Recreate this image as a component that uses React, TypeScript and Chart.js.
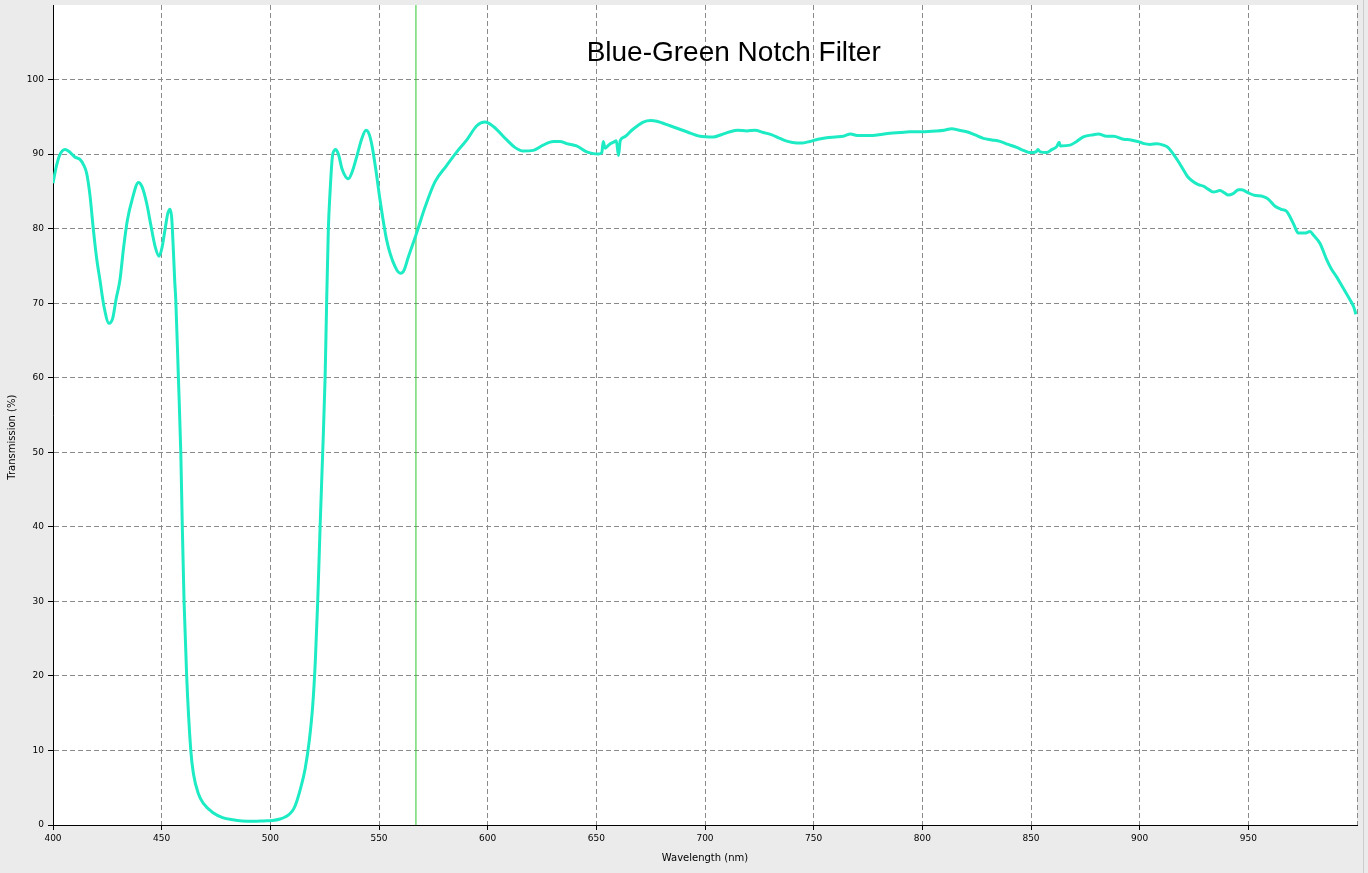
import React, { useEffect, useRef } from 'react';
import { Chart, registerables } from 'chart.js';

Chart.register(...registerables);

const chartTitle = 'Blue-Green Notch Filter';
const xAxisTitle = 'Wavelength (nm)';
const yAxisTitle = 'Transmission (%)';

const wavelengths = [
  400.0, 401.5, 403, 405.5, 408, 410, 412.4, 414, 415.5, 417, 418.6, 420, 421.6, 423.5, 425.8,
  427.5, 429, 430.8, 432.5, 434.2, 436.5, 439.3, 441, 443.1, 445, 447, 448.8, 450.2, 451.5, 452.8,
  453.8, 454.6, 455.4, 456, 456.5, 457.7, 458.8, 459.5, 460.3, 461.5, 463.4, 464.6, 466.9, 469.2,
  473.8, 478, 482.8, 487, 492, 497, 501, 504.5, 507, 509, 510.8, 512.3, 514, 516, 518, 519.5,
  520.7, 521.8, 522.9, 524.1, 525.2, 525.9, 526.7, 527.5, 528.5, 529.5, 530.2, 531.5, 533, 535.9,
  537.5, 539.7, 542, 544, 545.3, 546.6, 548.5, 550.5, 553.5, 557.4, 560, 561.5, 563.5, 567.3,
  571.2, 575.8, 581.2, 585.8, 590.4, 595, 598.8, 602.6, 608.8, 612.5, 616.4, 621, 625.5, 630.2,
  633.3, 636.4, 640.9, 645.6, 648, 650.9, 652.5, 653.2, 654, 656, 658, 659.2, 660.2,
  661, 663, 666.3, 669, 671.6, 675, 677.8, 683.9, 691.6, 697.7, 703.8, 707.5, 711.5, 715, 719.2,
  723, 726.8, 730.5, 734.5, 738, 742.2, 745, 748.3, 752, 756, 760, 763.6, 767, 770, 775.9, 780,
  785.1, 790, 794.3, 800, 806.6, 810, 813.5, 817, 820.4, 824, 828.1, 832, 835.7, 839.5, 843.4,
  846.5, 849.6, 852.3, 853.2, 854.2, 857.2, 859.5, 861.8, 863, 863.5, 868, 871, 874.1, 878.7, 881,
  884.8, 888, 892.5, 896, 900.2, 902, 904.8, 908, 910.9, 913, 915, 917.8, 920.1, 922, 924.7, 927,
  929.3, 931.5, 933.9, 937, 939, 940.8, 943, 945.5, 947, 950, 952.5, 956.9, 959, 962.3, 965, 967.7,
  969.5, 971, 973, 976, 978.4, 980, 983, 986.1, 988, 990.7, 993.5, 996.9, 998.5, 999.5,
];

const transmission = [
  86.1, 88.3, 89.8, 90.6, 90.2, 89.6, 89.3, 88.6, 87.4, 84.5, 79.8, 76.2, 73.1, 69.5, 67.3,
  68.0, 70.5, 73.1, 77.5, 81.1, 84.0, 86.2, 85.6, 83.4, 80.5, 77.6, 76.3, 77.5, 79.8, 82.0,
  82.6, 81.5, 77.0, 73.0, 70.4, 60, 50, 40, 30, 20, 10, 6.9, 4.2, 2.9,
  1.6, 1.0, 0.7, 0.55, 0.5, 0.55, 0.6, 0.8, 1.1, 1.5, 2.2, 3.3, 5.0, 7.5, 11.5, 16,
  22, 30, 40, 50, 60, 70, 80, 85, 89.5, 90.5, 90.6, 89.8, 88, 86.7,
  87.5, 89.6, 92, 93.2, 92.8, 91.4, 88, 83.8, 78.5, 74.9, 74.0, 74.4, 76.2, 79.4,
  82.9, 86.3, 88.5, 90.3, 91.9, 93.8, 94.3, 93.7, 91.9, 90.9, 90.4, 90.5, 91.2, 91.7,
  91.7, 91.4, 91.1, 90.3, 90.1, 90.0, 90.2, 91.7, 90.8, 91.3, 91.6, 91.8, 89.8,
  91.8, 92.3, 93.2, 93.8, 94.3, 94.5, 94.4, 93.8, 93.0, 92.4, 92.3, 92.6, 93.0, 93.2, 93.1,
  93.2, 92.9, 92.6, 92.1, 91.7, 91.5, 91.5, 91.7, 92.0, 92.2, 92.3, 92.4, 92.7, 92.5, 92.5, 92.6,
  92.8, 92.9, 93.0, 93.0, 93.1, 93.2, 93.4, 93.2, 93.0, 92.6, 92.1, 91.9, 91.7, 91.3, 90.9,
  90.5, 90.2, 90.3, 90.6, 90.3, 90.2, 90.6, 91.0, 91.6, 91.1, 91.2, 91.7, 92.3, 92.6, 92.7,
  92.4, 92.4, 92.0, 91.9, 91.6, 91.4, 91.3, 91.4, 91.2, 90.9, 90.2, 89.0, 87.9, 87.0, 86.3, 85.9,
  85.7, 85.3, 84.9, 85.1, 84.8, 84.5, 84.7, 85.2, 85.2, 84.8, 84.5, 84.3, 84.0, 83.0, 82.6, 82.3,
  81.4, 80.5, 79.4, 79.4, 79.6, 79.1, 78.0, 75.8, 74.7, 73.5, 72.1, 70.4, 69.5, 68.5,
];

const markerWavelength = [567, 567];
const markerTransmission = [0, 110];

const xMin = 400;
const xMax = 1000;
const xStep = 50;
const yMin = 0;
const yMax = 110;
const yStep = 10;

const TICK_FONT = { family: 'DejaVu Sans', size: 9 };
const AXIS_TITLE_FONT = { family: 'DejaVu Sans', size: 10 };
const GRID_COLOR = '#8a8a8a';

const backgroundPlugin = {
  id: 'bgPlugin',
  beforeDraw(chart: any) {
    const { ctx, chartArea, width, height } = chart;
    ctx.save();
    ctx.fillStyle = '#ebebeb';
    ctx.fillRect(0, 0, width, height);
    ctx.fillStyle = '#ffffff';
    ctx.fillRect(chartArea.left, chartArea.top, chartArea.right - chartArea.left, chartArea.bottom - chartArea.top);
    ctx.strokeStyle = '#cdcdcd';
    ctx.lineWidth = 1;
    ctx.beginPath();
    ctx.moveTo(width - 4.5, 0);
    ctx.lineTo(width - 4.5, height);
    ctx.stroke();
    ctx.restore();
  },
};

const textPlugin = {
  id: 'textPlugin',
  afterDatasetsDraw(chart: any) {
    const { ctx, chartArea } = chart;
    ctx.save();
    ctx.fillStyle = '#000000';
    ctx.font = '28px "Liberation Sans", Arial, sans-serif';
    ctx.textAlign = 'center';
    ctx.textBaseline = 'alphabetic';
    const cx = chartArea.left + (chartArea.right - chartArea.left) * 0.522;
    ctx.fillText(chartTitle, cx, chartArea.top + 56);
    ctx.restore();
  },
  afterDraw(chart: any) {
    const { ctx, chartArea } = chart;
    ctx.save();
    ctx.fillStyle = '#000000';
    ctx.font = '10px "DejaVu Sans", sans-serif';
    ctx.textAlign = 'center';
    ctx.textBaseline = 'middle';
    const cy = chartArea.top + (chartArea.bottom - chartArea.top) * 0.527;
    ctx.translate(12, cy);
    ctx.rotate(-Math.PI / 2);
    ctx.fillText(yAxisTitle, 0, 0);
    ctx.restore();
  },
};

export default function App() {
  const canvasRef = useRef<HTMLCanvasElement | null>(null);

  useEffect(() => {
    const canvas = canvasRef.current;
    if (!canvas) return;
    const curve = wavelengths.map((w, i) => ({ x: w, y: transmission[i] }));
    const marker = markerWavelength.map((w, i) => ({ x: w, y: markerTransmission[i] }));

    const chart = new Chart(canvas, {
      type: 'line',
      data: {
        datasets: [
          {
            label: 'Transmission',
            data: curve,
            borderColor: '#1debc4',
            borderWidth: 3,
            pointRadius: 0,
            fill: false,
            cubicInterpolationMode: 'monotone',
            order: 0,
          },
          {
            label: 'Marker',
            data: marker,
            borderColor: '#2fc82f',
            borderWidth: 1,
            pointRadius: 0,
            fill: false,
            order: 1,
          },
        ],
      },
      options: {
        responsive: false,
        animation: false,
        devicePixelRatio: 1,
        layout: { padding: { top: 5, right: 11, left: 0, bottom: 0 } },
        plugins: {
          legend: { display: false },
          tooltip: { enabled: false },
          title: { display: false },
        },
        scales: {
          x: {
            type: 'linear',
            min: xMin,
            max: xMax,
            ticks: {
              stepSize: xStep,
              autoSkip: false,
              maxRotation: 0,
              color: '#000000',
              font: TICK_FONT,
              padding: 3,
              callback: (v: any) => (Number(v) === xMax ? '' : String(v)),
            },
            grid: {
              color: GRID_COLOR,
              lineWidth: 1,
              tickLength: 5,
              tickColor: (ctx: any) => (ctx.tick && ctx.tick.value === xMax ? 'rgba(0,0,0,0)' : '#000000'),
            },
            border: { display: true, color: '#000000', width: 1, dash: [5, 3] },
            title: {
              display: true,
              text: xAxisTitle,
              color: '#000000',
              font: AXIS_TITLE_FONT,
              padding: { top: 0, bottom: 9 },
            },
            afterFit: (scale: any) => {
              scale.height = 48;
              scale.paddingLeft = 0;
              scale.paddingRight = 0;
            },
          },
          y: {
            type: 'linear',
            min: yMin,
            max: yMax,
            ticks: {
              stepSize: yStep,
              color: '#000000',
              font: TICK_FONT,
              padding: 4,
              callback: (v: any) => (Number(v) === yMax ? null : String(v)),
            },
            grid: {
              color: GRID_COLOR,
              lineWidth: 1,
              tickLength: 5,
              tickColor: '#000000',
            },
            border: { display: true, color: '#000000', width: 1, dash: [5, 3] },
            title: { display: false },
            afterFit: (scale: any) => {
              scale.width = 53;
              scale.paddingTop = 0;
              scale.paddingBottom = 0;
            },
          },
        },
      },
      plugins: [backgroundPlugin, textPlugin],
    } as any);

    return () => {
      chart.destroy();
    };
  }, []);

  return (
    <div style={{ position: 'absolute', left: 0, top: 0, width: 1368, height: 873 }}>
      <canvas ref={canvasRef} width={1368} height={873} style={{ width: 1368, height: 873, display: 'block' }} />
    </div>
  );
}
